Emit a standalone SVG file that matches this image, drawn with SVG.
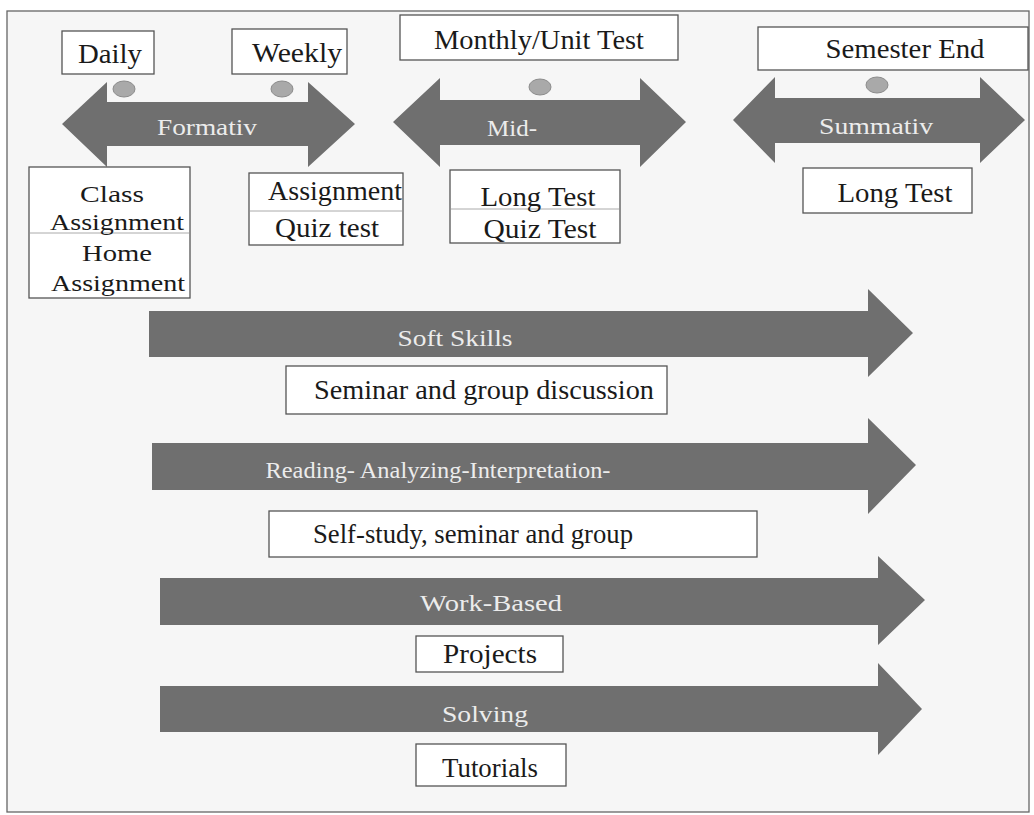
<svg xmlns="http://www.w3.org/2000/svg" width="1034" height="815" viewBox="0 0 1034 815">
<style>
.box{fill:#ffffff;stroke:#555;stroke-width:1.3}
.div{stroke:#aaa;stroke-width:1}
.arr{fill:#6f6f6f}
.dot{fill:#a9a9a9;stroke:#8c8c8c;stroke-width:1}
.t{font-family:'Liberation Serif','DejaVu Serif',serif;font-size:27px;fill:#1a1a1a;text-anchor:middle}
.s{font-size:24px}
.w{font-family:'Liberation Serif','DejaVu Serif',serif;font-size:24px;fill:#ececec;text-anchor:middle}
</style>
<rect x="0" y="0" width="1034" height="815" fill="#ffffff"/>
<rect x="7" y="11" width="1022" height="801" fill="#f6f6f6" stroke="#666" stroke-width="1.3"/>
<g id="connectors">
<polygon id="arrow-formativ" class="arr" points="62,124 107,82 107,102 308,102 308,82 355,124 308,167 308,146 107,146 107,167"/>
<polygon id="arrow-mid" class="arr" points="393,122 440,78 440,100 640,100 640,78 686,122 640,167 640,145 440,145 440,167"/>
<polygon id="arrow-summativ" class="arr" points="733,120 775,77 775,98 980,98 980,77 1025,120 980,163 980,143 775,143 775,163"/>
<polygon id="arrow-soft" class="arr" points="149,311 868,311 868,289 913,333 868,377 868,357 149,357"/>
<polygon id="arrow-reading" class="arr" points="152,443 868,443 868,418 916,465 868,514 868,490 152,490"/>
<polygon id="arrow-work" class="arr" points="160,578 878,578 878,556 925,600 878,645 878,625 160,625"/>
<polygon id="arrow-solving" class="arr" points="160,686 878,686 878,663 922,709 878,755 878,732 160,732"/>
<text class="w" x="207" y="135" textLength="100" lengthAdjust="spacingAndGlyphs">Formativ</text>
<text class="w" x="512" y="136" textLength="50" lengthAdjust="spacingAndGlyphs">Mid-</text>
<text class="w" x="876" y="134" textLength="114" lengthAdjust="spacingAndGlyphs">Summativ</text>
<text class="w" x="455" y="346" textLength="115" lengthAdjust="spacingAndGlyphs">Soft Skills</text>
<text class="w" x="438" y="478" textLength="345" lengthAdjust="spacingAndGlyphs">Reading- Analyzing-Interpretation-</text>
<text class="w" x="491" y="611" textLength="142" lengthAdjust="spacingAndGlyphs">Work-Based</text>
<text class="w" x="485" y="722" textLength="86" lengthAdjust="spacingAndGlyphs">Solving</text>
</g>
<g id="dots">
<ellipse class="dot" cx="124" cy="89" rx="11" ry="8"/>
<ellipse class="dot" cx="282" cy="89" rx="11" ry="8"/>
<ellipse class="dot" cx="540" cy="87" rx="11" ry="8"/>
<ellipse class="dot" cx="877" cy="85" rx="11" ry="8"/>
</g>
<g id="daily"><rect class="box" x="62" y="31" width="92" height="43"/><text class="t" x="110" y="63" textLength="64" lengthAdjust="spacingAndGlyphs">Daily</text></g>
<g id="weekly"><rect class="box" x="232" y="29" width="115" height="45"/><text class="t" x="297" y="62" textLength="90" lengthAdjust="spacingAndGlyphs">Weekly</text></g>
<g id="monthly"><rect class="box" x="400" y="15" width="278" height="45"/><text class="t" x="539" y="49" textLength="210" lengthAdjust="spacingAndGlyphs">Monthly/Unit Test</text></g>
<g id="semester"><rect class="box" x="758" y="27" width="270" height="43"/><text class="t" x="905" y="58" textLength="159" lengthAdjust="spacingAndGlyphs">Semester End</text></g>
<g id="daily-tasks"><rect class="box" x="29" y="167" width="161" height="131"/><line class="div" x1="30" y1="233" x2="189" y2="233"/>
<text class="t s" x="112" y="202" textLength="64" lengthAdjust="spacingAndGlyphs">Class</text>
<text class="t s" x="117" y="230" textLength="134" lengthAdjust="spacingAndGlyphs">Assignment</text>
<text class="t s" x="117" y="261" textLength="70" lengthAdjust="spacingAndGlyphs">Home</text>
<text class="t s" x="118" y="291" textLength="134" lengthAdjust="spacingAndGlyphs">Assignment</text></g>
<g id="weekly-tasks"><rect class="box" x="249" y="173" width="154" height="72"/><line class="div" x1="250" y1="211" x2="402" y2="211"/>
<text class="t" x="335" y="200" textLength="134" lengthAdjust="spacingAndGlyphs">Assignment</text>
<text class="t" x="327" y="237" textLength="104" lengthAdjust="spacingAndGlyphs">Quiz test</text></g>
<g id="mid-tasks"><rect class="box" x="450" y="170" width="170" height="73"/><line class="div" x1="451" y1="209" x2="619" y2="209"/>
<text class="t" x="538" y="206" textLength="115" lengthAdjust="spacingAndGlyphs">Long Test</text>
<text class="t" x="540" y="238" textLength="113" lengthAdjust="spacingAndGlyphs">Quiz Test</text></g>
<g id="sem-tasks"><rect class="box" x="803" y="168" width="169" height="45"/><text class="t" x="895" y="202" textLength="115" lengthAdjust="spacingAndGlyphs">Long Test</text></g>
<g id="seminar"><rect class="box" x="286" y="366" width="381" height="48"/><text class="t" x="484" y="399" textLength="340" lengthAdjust="spacingAndGlyphs">Seminar and group discussion</text></g>
<g id="selfstudy"><rect class="box" x="269" y="511" width="488" height="46"/><text class="t" x="473" y="543" textLength="320" lengthAdjust="spacingAndGlyphs">Self-study, seminar and group</text></g>
<g id="projects"><rect class="box" x="416" y="636" width="147" height="36"/><text class="t" x="490" y="663" textLength="94" lengthAdjust="spacingAndGlyphs">Projects</text></g>
<g id="tutorials"><rect class="box" x="416" y="744" width="150" height="42"/><text class="t" x="490" y="777" textLength="96" lengthAdjust="spacingAndGlyphs">Tutorials</text></g>
</svg>
